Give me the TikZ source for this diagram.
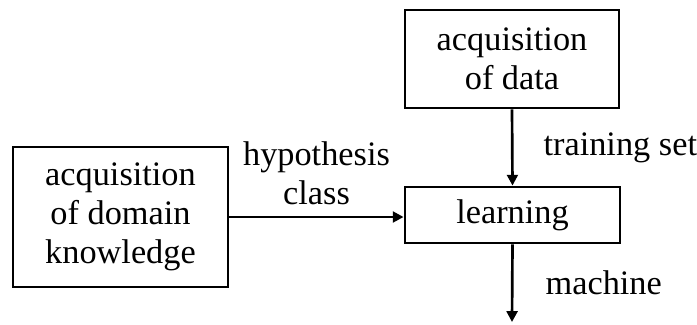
\documentclass[tikz,border=0pt]{standalone}
\usepackage{fontspec}
\setmainfont{Liberation Serif}
\usepackage{tikz}
\usetikzlibrary{arrows.meta}

\begin{document}
\begin{tikzpicture}[x=0.025cm,y=-0.025cm,>={Triangle[length=0.27cm,width=0.27cm]},
box/.style={draw,line width=2pt,align=center,inner sep=0pt,font=\fontsize{24.4}{27.7}\selectfont},
lbl/.style={align=center,inner sep=0pt,font=\fontsize{24.4}{27.7}\selectfont}]
\useasboundingbox (0,0) rectangle (697,324);
\node[box,minimum width=5.35cm,minimum height=2.45cm](data) at (512,59){acquisition\\of data};
\node[box,minimum width=5.375cm,minimum height=3.5cm](domain) at (120.5,217){acquisition\\of domain\\knowledge};
\node[box,minimum width=5.375cm,minimum height=1.4cm](learn) at (512.5,215){learning};
\coordinate (out) at (512,322);
\draw[->,line width=1.9pt](data.south)--(learn.north)
node[lbl,pos=0.5,right=0.75cm]{training set};
\draw[->,line width=1.9pt](domain.east)--(domain.east-|learn.west)
node[lbl,midway,above=0.28cm]{hypothesis\\class};
\draw[->,line width=1.9pt](learn.south)--(out)
node[lbl,midway,right=0.8cm]{machine};
\end{tikzpicture}
\end{document}
